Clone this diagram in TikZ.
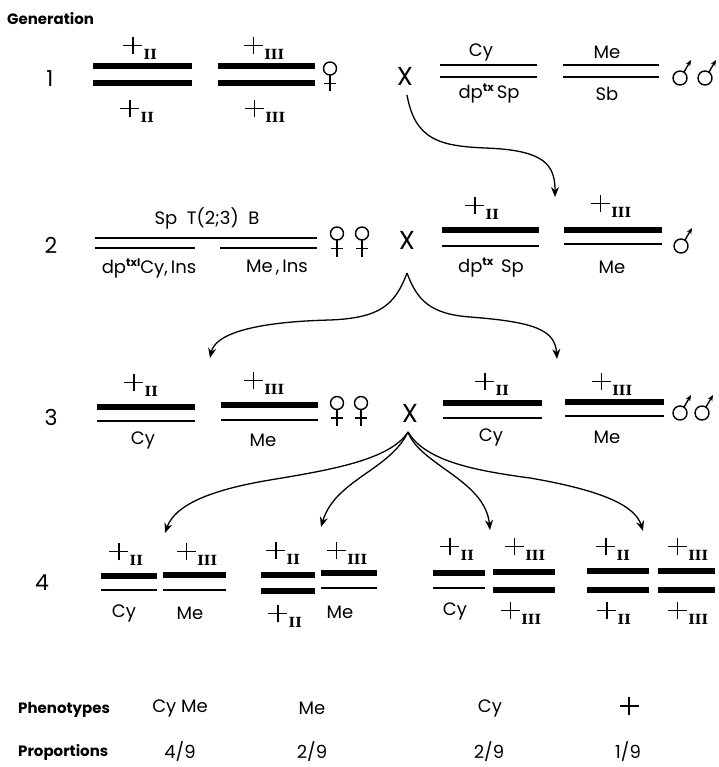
\documentclass[tikz,border=0pt]{standalone}
\usepackage{fontspec}
\newfontfamily\geo{Poppins}
\newfontfamily\slab{DejaVu Serif}
\usetikzlibrary{arrows.meta}

% a plain plus sign built from two rules
\newcommand\plusglyph{\rlap{\rule[8pt]{19pt}{1.7pt}}\kern8.65pt\rule{1.7pt}{17.6pt}\kern8.65pt}
% wild-type allele: plus with a bold roman chromosome number
\newcommand\wt[1]{\plusglyph\kern1.5pt\raisebox{-5pt}{\slab\bfseries\fontsize{14}{14}\selectfont #1}}
% small bold superscript
\newcommand\sups[1]{\raisebox{7pt}{\geo\bfseries\fontsize{11}{11}\selectfont #1}}

\tikzset{
  thickbar/.style={line width=6pt},
  thinbar/.style={line width=1.8pt},
  lbl/.style={font=\geo\fontsize{18}{18}\selectfont, inner sep=0pt},
  allele/.style={inner sep=0pt},
  gennum/.style={font=\geo\fontsize{22}{22}\selectfont, inner sep=0pt},
  hdr/.style={font=\geo\bfseries\fontsize{15}{15}\selectfont, inner sep=0pt, anchor=west},
  crossmark/.style={font=\geo\fontsize{26}{26}\selectfont, inner sep=0pt},
  conn/.style={line width=1.3pt, -{Stealth[length=10pt,width=8pt]}},
  female/.pic={
    \draw[line width=1.4pt] (0,0) circle[radius=6.5];
    \draw[line width=1.4pt] (0,6.5) -- (0,23);
    \draw[line width=1.4pt] (-6,15) -- (6,15);
  },
  male/.pic={
    \draw[line width=1.4pt] (0,0) circle[radius=7];
    \draw[line width=1.4pt, -{Stealth[length=6pt,width=5pt]}] (3.9,-5.8) -- (11,-18);
  },
}

\begin{document}
\begin{tikzpicture}[x=1pt,y=-1pt]
\fill[white] (0,0) rectangle (718,767);
\useasboundingbox (0,0) rectangle (718,767);

\node[hdr] (hgen) at (7,19) {Generation};

% ---------- generation 1 ----------
\node[gennum] (g1) at (50,79) {1};
\draw[thickbar] (93,66.5) -- (192,66.5);
\draw[thickbar] (93,83) -- (192,83);
\draw[thickbar] (218,66.5) -- (315,66.5);
\draw[thickbar] (218,83) -- (315,83);
\node[allele] (a1a) at (140,48) {\wt{II}};
\node[allele] (a1b) at (137,111) {\wt{II}};
\node[allele] (a1c) at (264,48) {\wt{III}};
\node[allele] (a1d) at (265,111) {\wt{III}};
\pic at (330,68.5) {female};

\node[crossmark] (x1) at (405,76) {X};

\draw[thinbar] (440,65) -- (537,65);
\draw[thinbar] (440,77) -- (537,77);
\draw[thinbar] (563,65) -- (659,65);
\draw[thinbar] (563,77) -- (659,77);
\node[lbl] (c1a) at (481,52) {Cy};
\node[lbl] (c1b) at (489,94) {dp\sups{tx}\,Sp};
\node[lbl] (c1c) at (607,52) {Me};
\node[lbl] (c1d) at (607,94) {Sb};
\pic at (680,78) {male};
\pic at (705,78) {male};

% ---------- generation 2 ----------
\node[gennum] (g2) at (51,245) {2};
\draw[thinbar] (95,238) -- (317,238);
\draw[thinbar] (95,248) -- (195,248);
\draw[thinbar] (220,248) -- (317,248);
\node[lbl] (c2a) at (207,218) {Sp\ \ T(2;3)\ \ B};
\node[lbl] (c2b) at (149,268) {dp\sups{txI}Cy,\,Ins};
\node[lbl] (c2c) at (277,268) {Me\,,\,Ins};
\pic at (337,233.5) {female};
\pic at (362,233.5) {female};

\node[crossmark] (x2) at (407,240) {X};

\draw[thickbar] (442,230) -- (539,230);
\draw[thinbar] (442,246) -- (539,246);
\draw[thickbar] (564,229.5) -- (662,229.5);
\draw[thinbar] (564,244) -- (662,244);
\node[allele] (a2a) at (482,208) {\wt{II}};
\node[allele] (a2b) at (611,206) {\wt{III}};
\node[lbl] (c2d) at (491,268) {dp\sups{tx}\ \,Sp};
\node[lbl] (c2e) at (612,267) {Me};
\pic at (681,246) {male};

% ---------- generation 3 ----------
\node[gennum] (g3) at (51,417) {3};
\draw[thickbar] (97,406.5) -- (195,406.5);
\draw[thinbar] (97,421) -- (195,421);
\draw[thickbar] (221,405) -- (318,405);
\draw[thinbar] (221,420) -- (318,420);
\node[allele] (a3a) at (141,385) {\wt{II}};
\node[allele] (a3b) at (264,383) {\wt{III}};
\node[lbl] (c3a) at (143,440) {Cy};
\node[lbl] (c3b) at (263,440) {Me};
\pic at (337,403) {female};
\pic at (361,403) {female};

\node[crossmark] (x3) at (410,413) {X};

\draw[thickbar] (443,402.5) -- (542,402.5);
\draw[thinbar] (443,418) -- (542,418);
\draw[thickbar] (565,402) -- (664,402);
\draw[thinbar] (565,416) -- (664,416);
\node[allele] (a3c) at (492,384) {\wt{II}};
\node[allele] (a3d) at (612,384) {\wt{III}};
\node[lbl] (c3c) at (491,437) {Cy};
\node[lbl] (c3d) at (607,437) {Me};
\pic at (680,413) {male};
\pic at (702,413) {male};

% ---------- generation 4 ----------
\node[gennum] (g4) at (42,583) {4};
% Cy / Me
\draw[thickbar] (101,575.5) -- (157,575.5);
\draw[thinbar] (101,590) -- (157,590);
\draw[thickbar] (163,575) -- (226,575);
\draw[thinbar] (163,590) -- (226,590);
\node[allele] (a4a) at (126,554) {\wt{II}};
\node[allele] (a4b) at (197,554) {\wt{III}};
\node[lbl] (c4a) at (124,613) {Cy};
\node[lbl] (c4b) at (190,613) {Me};
% + / Me
\draw[thickbar] (261,574.5) -- (315,574.5);
\draw[thickbar] (261,590.5) -- (315,590.5);
\draw[thickbar] (321,573) -- (377,573);
\draw[thinbar] (321,588) -- (377,588);
\node[allele] (a4c) at (283,553) {\wt{II}};
\node[allele] (a4d) at (347,553) {\wt{III}};
\node[allele] (a4e) at (285,616) {\wt{II}};
\node[lbl] (c4c) at (340,612) {Me};
% Cy / +
\draw[thickbar] (433,572.5) -- (485,572.5);
\draw[thinbar] (433,588) -- (485,588);
\draw[thickbar] (493,572) -- (555,572);
\draw[thickbar] (493,590) -- (555,590);
\node[allele] (a4f) at (457,549) {\wt{II}};
\node[allele] (a4g) at (525,549) {\wt{III}};
\node[lbl] (c4d) at (455,611) {Cy};
\node[allele] (a4h) at (521,613) {\wt{III}};
% + / +
\draw[thickbar] (587,571) -- (649,571);
\draw[thickbar] (587,590) -- (649,590);
\draw[thickbar] (658,571) -- (715,571);
\draw[thickbar] (658,590) -- (715,590);
\node[allele] (a4i) at (613,549) {\wt{II}};
\node[allele] (a4j) at (688,549) {\wt{III}};
\node[allele] (a4k) at (614,613) {\wt{II}};
\node[allele] (a4l) at (688,613) {\wt{III}};

% ---------- crosses ----------
\coordinate (x1b) at (407,95);
\coordinate (x2b) at (407,273);
\coordinate (x3b) at (408,432);
\coordinate (e1) at (555,197);
\coordinate (e2l) at (210,358);
\coordinate (e2r) at (557,359);
\coordinate (e3a) at (165,533);
\coordinate (e3b) at (321,527);
\coordinate (e3c) at (490,530);
\coordinate (e3d) at (643,531);

\draw[conn] (x1b) .. controls (415,140) and (440,146) .. (485,148)
                  .. controls (545,150) and (555,165) .. (e1);
\draw[conn] (x2b) .. controls (395,305) and (380,318) .. (330,320)
                  .. controls (250,322) and (215,335) .. (e2l);
\draw[conn] (x2b) .. controls (417,300) and (430,314) .. (470,317)
                  .. controls (535,322) and (555,330) .. (e2r);
\draw[conn] (x3b) .. controls (390,460) and (330,470) .. (270,480)
                  .. controls (210,490) and (175,505) .. (e3a);
\draw[conn] (x3b) .. controls (390,470) and (335,480) .. (e3b);
\draw[conn] (x3b) .. controls (420,465) and (485,480) .. (e3c);
\draw[conn] (x3b) .. controls (425,460) and (470,470) .. (530,478)
                  .. controls (600,490) and (635,505) .. (e3d);

% ---------- summary ----------
\node[hdr] (hphen) at (18,710) {Phenotypes};
\node[hdr] (hprop) at (18,752) {Proportions};
\node[lbl] (p1) at (180,708) {Cy Me};
\node[lbl] (p2) at (312,708) {Me};
\node[lbl] (p3) at (490,708) {Cy};
\node[allele] (p4) at (629,706) {\plusglyph};
\node[lbl] (q1) at (180,752) {4/9};
\node[lbl] (q2) at (312,752) {2/9};
\node[lbl] (q3) at (489,752) {2/9};
\node[lbl] (q4) at (628,752) {1/9};
\end{tikzpicture}
\end{document}
